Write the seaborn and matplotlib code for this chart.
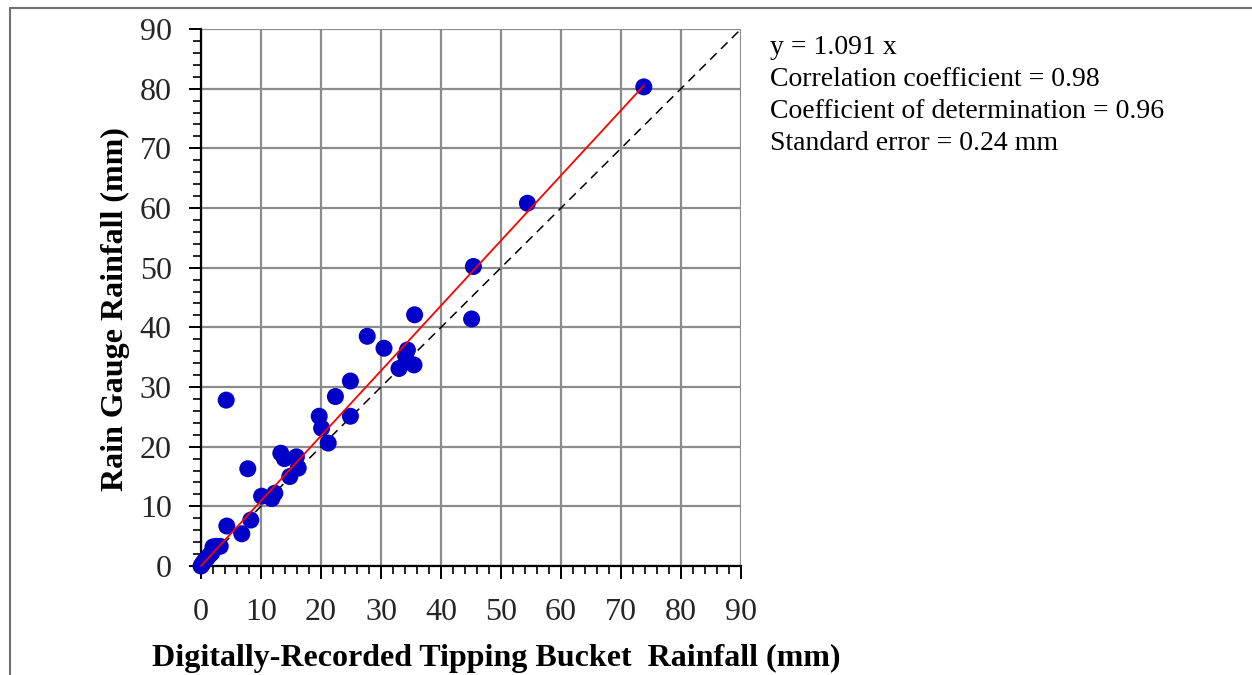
import matplotlib
matplotlib.use("Agg")
import matplotlib.pyplot as plt
from matplotlib.lines import Line2D
from matplotlib.ticker import MultipleLocator
import seaborn as sns
import pandas as pd
import numpy as np

# Data
tipping_bucket = [0.0, 0.2, 0.4, 0.7, 1.0, 1.4, 1.8, 2.0, 2.6, 3.2, 4.2, 4.3, 6.8, 7.8, 8.3,
                  10.1, 11.8, 12.3, 13.3, 13.9, 14.8, 15.9, 16.2, 19.7, 20.1, 21.2, 22.4,
                  24.9, 24.9, 27.7, 30.5, 33.0, 34.1, 34.4, 35.5, 35.6, 45.1, 45.4, 54.4, 73.8]
rain_gauge = [0.0, 0.3, 0.6, 1.0, 1.3, 1.8, 2.2, 3.2, 3.3, 3.3, 27.8, 6.7, 5.4, 16.3, 7.7,
              11.7, 11.3, 12.2, 18.9, 18.0, 15.0, 18.3, 16.4, 25.1, 23.1, 20.6, 28.4,
              31.0, 25.1, 38.5, 36.5, 33.1, 35.2, 36.2, 33.7, 42.1, 41.4, 50.2, 60.8, 80.3]
slope = 1.091
fit_range = [0.0, 73.8]
one_to_one = [0, 90]
stats_lines = ["y = 1.091 x",
               "Correlation coefficient = 0.98",
               "Coefficient of determination = 0.96",
               "Standard error = 0.24 mm"]
ticks = list(range(0, 100, 10))

df = pd.DataFrame({"tb": tipping_bucket, "rg": rain_gauge})
fit_df = pd.DataFrame({"x": fit_range, "y": [slope * v for v in fit_range]})
ref_df = pd.DataFrame({"x": one_to_one, "y": one_to_one})

sns.set_theme(style="white")
plt.rcParams["font.family"] = ["Liberation Serif", "DejaVu Serif"]

fig = plt.figure(figsize=(12.52, 6.75), dpi=100)
ax = fig.add_axes([201 / 1252, 1 - 566 / 675, 540 / 1252, 537 / 675])

ax.grid(True, which="major", color="#8c8c8c", linewidth=1.6)
ax.set_axisbelow(True)

sns.lineplot(data=ref_df, x="x", y="y", ax=ax, color="black", linewidth=1.1,
             linestyle=(0, (6, 4)), zorder=2)
sns.scatterplot(data=df, x="tb", y="rg", ax=ax, color="#0000c8", s=150,
                edgecolor="none", zorder=3, clip_on=False)
sns.lineplot(data=fit_df, x="x", y="y", ax=ax, color="#ff0000", linewidth=1.3, zorder=4,
             clip_on=False)

ax.set_xlim(0, 90)
ax.set_ylim(0, 90)
ax.set_xticks(ticks)
ax.set_yticks(ticks)
ax.xaxis.set_minor_locator(MultipleLocator(2))
ax.yaxis.set_minor_locator(MultipleLocator(2))
ax.tick_params(which="major", direction="out", length=9, width=1.4, color="black",
               labelsize=23, bottom=True, left=True)
ax.tick_params(axis="x", which="major", pad=14)
ax.tick_params(axis="y", which="major", pad=12)
ax.tick_params(which="minor", direction="out", length=6, width=1.2, color="black",
               bottom=True, left=True)
for side in ["left", "bottom"]:
    ax.spines[side].set_color("black")
    ax.spines[side].set_linewidth(1.6)
for side in ["right", "top"]:
    ax.spines[side].set_visible(False)

ax.set_xlabel("Digitally-Recorded Tipping Bucket  Rainfall (mm)", fontsize=23,
              fontweight="bold", color="black")
ax.set_ylabel("Rain Gauge Rainfall (mm)", fontsize=23, fontweight="bold", color="black")
ax.xaxis.set_label_coords((496 - 201) / 540, (566 - 644) / 537)
ax.yaxis.set_label_coords((130 - 201) / 540, (566 - 309) / 537)

for i, line in enumerate(stats_lines):
    fig.text(770 / 1252, 1 - (48 + 32 * i) / 675, line, fontsize=20,
             va="center", ha="left", color="black")

# figure frame (left and top edges)
fig.add_artist(Line2D([10 / 1252, 10 / 1252], [0, 1 - 8 / 675], color="#707070", linewidth=1.5))
fig.add_artist(Line2D([10 / 1252, 1], [1 - 8 / 675, 1 - 8 / 675], color="#707070", linewidth=1.5))

fig.savefig("out.png", dpi=100)
